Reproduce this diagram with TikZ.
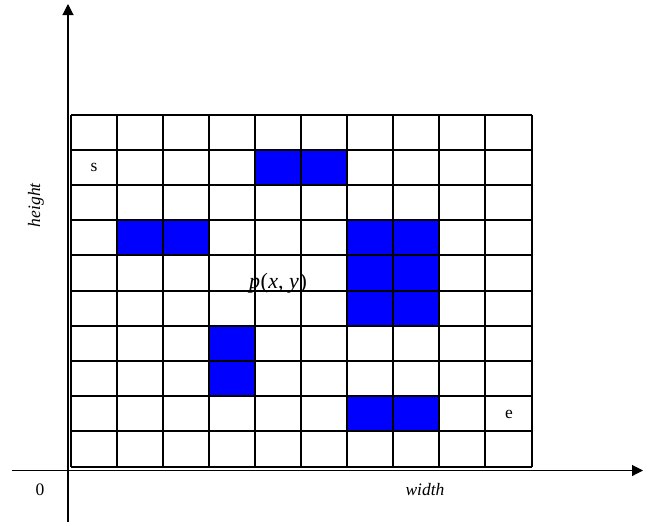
\documentclass[tikz,border=0pt]{standalone}
\usepackage{fontspec}
\setmainfont{Liberation Serif}
\usepackage{tikz}
\usetikzlibrary{arrows.meta, positioning, calc}

\begin{document}
\begin{tikzpicture}[
    x=1pt, y=-1pt,
    cell/.style={rectangle, minimum width=46.1pt, minimum height=35.2pt, inner sep=0pt},
    blk/.style={cell, fill=blue},
    gridline/.style={line width=1.3pt, black},
    lbl/.style={font=\fontsize{17.5}{21}\selectfont, inner sep=1pt},
    axis/.style={-{Triangle[length=11pt, width=11pt]}, line width=1.1pt, black}
]
\useasboundingbox (0,0) rectangle (655,525);

% grid cells
\foreach \i in {0,...,9} {
    \foreach \j in {0,...,9} {
        \node[cell] (c-\i-\j) at ({71+46.1*(\i+0.5)}, {115+35.2*(\j+0.5)}) {};
    }
}

% occupied cells
\foreach \i/\j in {4/1, 5/1, 1/3, 2/3, 6/3, 7/3, 6/4, 7/4, 6/5, 7/5, 3/6, 3/7, 6/8, 7/8} {
    \node[blk] at (c-\i-\j) {};
}

% grid lines
\foreach \gx in {71,117,163,209,255,301,347,393,439,485,532} {
    \draw[gridline] (\gx,115) -- (\gx,467);
}
\foreach \gy in {115,150,185,220,255,291,326,361,396,431,467} {
    \draw[gridline] (71,\gy) -- (532,\gy);
}

% start, end and point
\node[lbl] (start) at (c-0-1) {s};
\node[lbl] (end) at (c-9-8) {e};
\node[lbl, anchor=base, font=\fontsize{22}{26}\selectfont] (pt) at (278,288) {\textit{p}\kern0.5pt(\kern0.5pt\textit{x}, \textit{y}\kern0.5pt)};

% axes
\coordinate (xs) at (12,470.5);
\coordinate (xe) at (643,470.5);
\coordinate (ys) at (68,522);
\coordinate (ye) at (68,4);
\draw[axis] (xs) -- (xe);
\draw[axis] (ys) -- (ye);

% axis labels
\node[lbl] (orig) at (40,490) {0};
\node[lbl] (wlab) at (425,490) {\textit{width}};
\node[lbl, rotate=90] (hlab) at (36,205) {\textit{height}};

\end{tikzpicture}
\end{document}
